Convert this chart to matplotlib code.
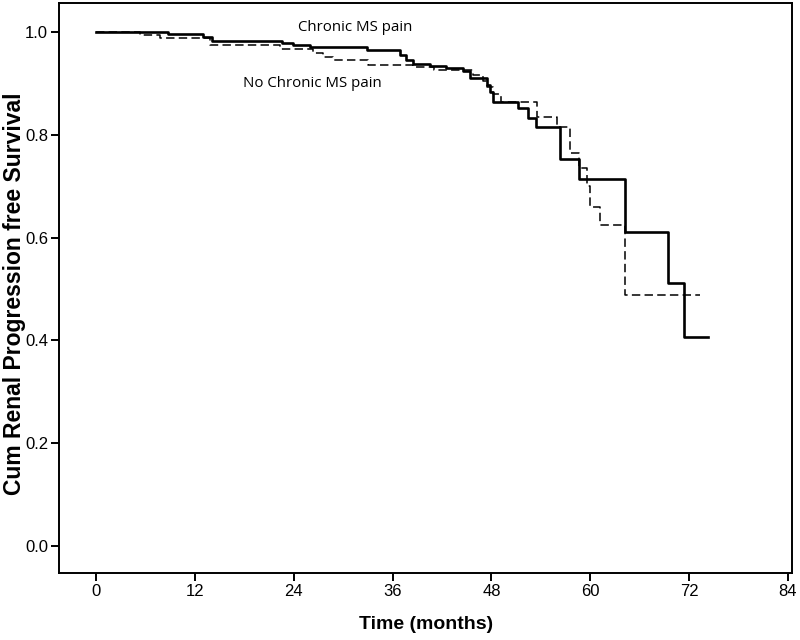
import matplotlib
matplotlib.use("Agg")
import matplotlib.pyplot as plt

# Chronic MS pain (solid)
chronic_t = [0, 8.7, 13.0, 14.0, 22.6, 23.9, 26.0, 32.9, 36.9, 37.6, 38.5, 40.5, 42.5, 44.5,
             45.4, 47.5, 47.8, 48.2, 51.2, 52.4, 53.4, 56.3, 58.6, 64.2, 69.5, 71.4, 74.3]
chronic_s = [1.0, 0.996, 0.990, 0.983, 0.979, 0.975, 0.971, 0.965, 0.955, 0.945, 0.938, 0.934, 0.930, 0.925,
             0.910, 0.897, 0.883, 0.864, 0.852, 0.833, 0.815, 0.753, 0.714, 0.611, 0.512, 0.407, 0.407]

# No Chronic MS pain (dashed)
nochronic_t = [0, 5.3, 7.8, 13.8, 22.3, 26.3, 27.5, 28.8, 33.0, 38.5, 41.0, 45.8, 47.0, 47.5, 48.2,
               49.2, 53.5, 55.9, 57.5, 58.6, 59.6, 60.0, 61.2, 64.2, 73.3]
nochronic_s = [1.0, 0.994, 0.988, 0.975, 0.967, 0.959, 0.952, 0.945, 0.936, 0.932, 0.926, 0.916, 0.905, 0.893, 0.880,
               0.864, 0.835, 0.815, 0.765, 0.735, 0.700, 0.660, 0.625, 0.488, 0.488]

x_ticks = [0, 12, 24, 36, 48, 60, 72, 84]
y_ticks = [0.0, 0.2, 0.4, 0.6, 0.8, 1.0]

fig = plt.figure(figsize=(8, 6.4), dpi=100)
ax = fig.add_axes([0.074, 0.1047, 0.916, 0.8906])

ax.plot(chronic_t, chronic_s, drawstyle="steps-post", color="black", lw=1.9)
ax.plot(nochronic_t, nochronic_s, drawstyle="steps-post", color="black", lw=1.1,
        dashes=(5.5, 2.8))

ax.set_xlim(-4.5, 84.5)
ax.set_ylim(-0.0525, 1.0564)
ax.set_xticks(x_ticks)
ax.set_xticklabels([str(v) for v in x_ticks])
ax.set_yticks(y_ticks)
ax.set_yticklabels([f"{v:.1f}" for v in y_ticks])

for sp in ax.spines.values():
    sp.set_linewidth(1.4)
    sp.set_color("black")

ax.tick_params(direction="out", length=6, width=1.4, pad=2,
               labelsize=12, colors="black")
for lab in ax.get_xticklabels() + ax.get_yticklabels():
    lab.set_family("Liberation Sans")

ax.set_xlabel("Time (months)", fontsize=14, fontweight="bold",
              family="Liberation Sans", labelpad=12)
ax.set_ylabel("Cum Renal Progression free Survival", fontsize=16.5, fontweight="bold",
              family="Liberation Sans", va="center")
ax.yaxis.set_label_coords(-0.0605, 0.49)

ax.text(31.4, 1.008, "Chronic MS pain", ha="center", va="center",
        fontsize=10.8, family="Open Sans")
ax.text(26.2, 0.899, "No Chronic MS pain", ha="center", va="center",
        fontsize=10.8, family="Open Sans")

fig.savefig("out.png", dpi=100)
